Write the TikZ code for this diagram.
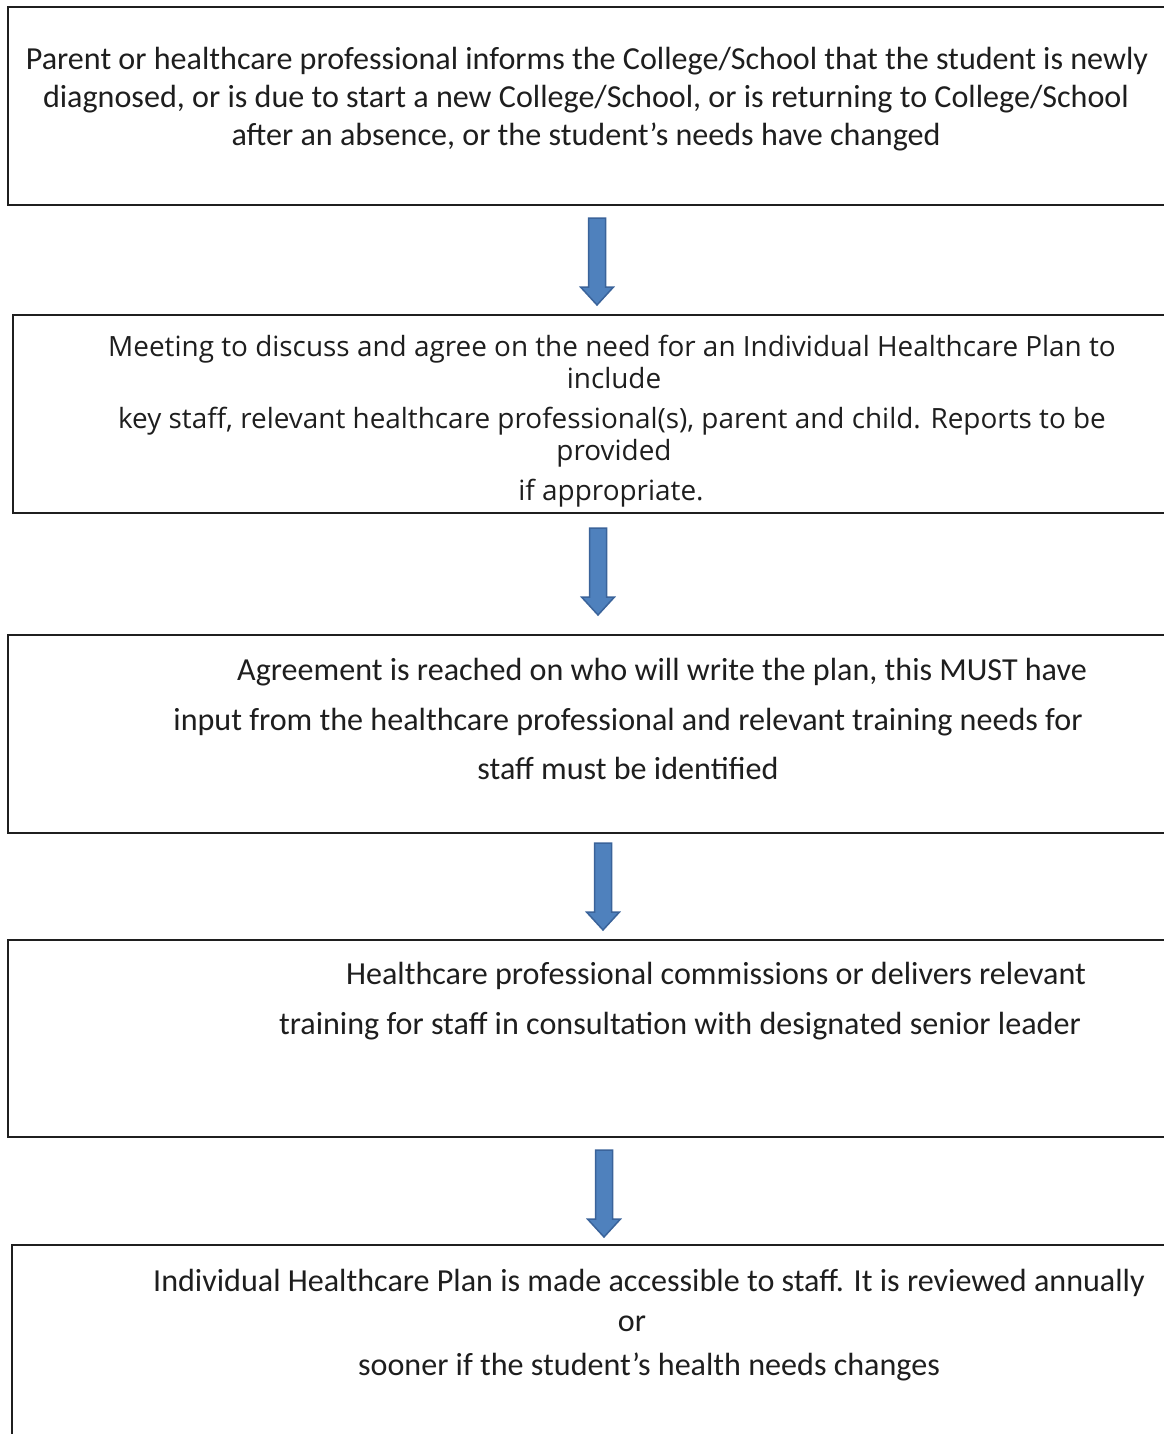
\documentclass[tikz,border=0pt]{standalone}
\usepackage{fontspec}
\setmainfont{Carlito}
\newfontfamily\osans{Open Sans}
\usetikzlibrary{calc}
\definecolor{arrowfill}{HTML}{4F81BD}
\definecolor{arrowline}{HTML}{3A639A}
\definecolor{txt}{HTML}{1E1E1E}
\newcommand\mkarrow[2]{%
  \draw[blockarrow] ($(#1)+(-8.5,0)$) -- ($(#2)+(-8.5,-18)$) -- ($(#2)+(-16.5,-18)$)
    -- (#2) -- ($(#2)+(16.5,-18)$) -- ($(#2)+(8.5,-18)$) -- ($(#1)+(8.5,0)$) -- cycle;}
\begin{document}
\begin{tikzpicture}[x=1pt,y=-1pt,
  boxline/.style={line width=2pt, draw=black!88},
  cline/.style={anchor=base, inner sep=0pt, font=\fontsize{32.1}{38}\selectfont, text=txt},
  oline/.style={anchor=base, inner sep=0pt, font=\osans\fontsize{27.9}{33}\selectfont, text=txt},
  blockarrow/.style={fill=arrowfill, draw=arrowline, line width=1.5pt, line join=miter}]
\useasboundingbox (0,0) rectangle (1163,1434);
% boxes (right side runs off the page)
\coordinate (b1) at (8,7);
\coordinate (b2) at (13,315);
\coordinate (b3) at (8,635);
\coordinate (b4) at (8,940);
\coordinate (b5) at (12,1245);
\draw[boxline] (1175,7) -| (8,205) -- (1175,205);
\draw[boxline] (1175,315) -| (13,513) -- (1175,513);
\draw[boxline] (1175,635) -| (8,833) -- (1175,833);
\draw[boxline] (1175,940) -| (8,1137) -- (1175,1137);
\draw[boxline] (1175,1245) -| (12,1445);
% box 1 text
\node[cline] (t11) at (587,70) {Parent or healthcare professional informs the College/School that the student is newly};
\node[cline] (t12) at (586,108) {diagnosed, or is due to start a new College/School, or is returning to College/School};
\node[cline] (t13) at (586,146) {after an absence, or the student’s needs have changed};
% box 2 text
\node[oline] (t21) at (612,356) {Meeting to discuss and agree on the need for an Individual Healthcare Plan to};
\node[oline] (t22) at (614,388) {include};
\node[oline] (t23) at (612,428) {key staff, relevant healthcare professional(s), parent and child. Reports to be};
\node[oline] (t24) at (614,460) {provided};
\node[oline] (t25) at (611,500) {if appropriate.};
% box 3 text
\node[cline] (t31) at (662,680) {Agreement is reached on who will write the plan, this MUST have};
\node[cline] (t32) at (628,730) {input from the healthcare professional and relevant training needs for};
\node[cline] (t33) at (628,779) {staff must be identified};
% box 4 text
\node[cline] (t41) at (716,984) {Healthcare professional commissions or delivers relevant};
\node[cline] (t42) at (680,1034) {training for staff in consultation with designated senior leader};
% box 5 text
\node[cline] (t51) at (649,1291) {Individual Healthcare Plan is made accessible to staff. It is reviewed annually};
\node[cline] (t52) at (632,1331) {or};
\node[cline] (t53) at (649,1375) {sooner if the student’s health needs changes};
% block arrows
\coordinate (a1s) at (597,218); \coordinate (a1e) at (597,305);
\coordinate (a2s) at (598,528); \coordinate (a2e) at (598,615);
\coordinate (a3s) at (603,843); \coordinate (a3e) at (603,930);
\coordinate (a4s) at (604,1150); \coordinate (a4e) at (604,1237);
\mkarrow{a1s}{a1e}
\mkarrow{a2s}{a2e}
\mkarrow{a3s}{a3e}
\mkarrow{a4s}{a4e}
\end{tikzpicture}
\end{document}
